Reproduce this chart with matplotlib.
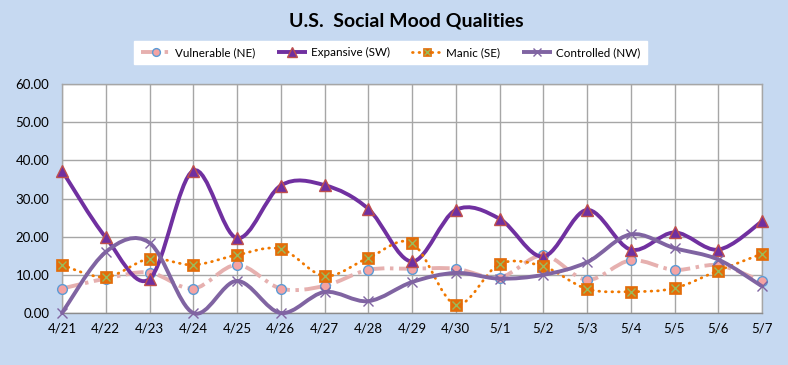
import matplotlib
matplotlib.use("Agg")
import matplotlib.pyplot as plt
from matplotlib.path import Path
from matplotlib.patches import PathPatch
from matplotlib.lines import Line2D
from matplotlib.legend_handler import HandlerTuple
import numpy as np

plt.rcParams['font.family'] = ['Lato', 'DejaVu Sans']
plt.rcParams['lines.scale_dashes'] = False

dates = ["4/21", "4/22", "4/23", "4/24", "4/25", "4/26", "4/27", "4/28", "4/29",
         "4/30", "5/1", "5/2", "5/3", "5/4", "5/5", "5/6", "5/7"]
vulnerable = [6.4, 9.0, 10.6, 6.4, 12.6, 6.4, 7.1, 11.3, 11.6, 11.6, 9.3, 15.1, 8.7, 13.8, 11.3, 12.5, 8.3]
expansive = [37.3, 19.8, 8.9, 37.3, 19.6, 33.4, 33.5, 27.3, 13.5, 27.0, 24.7, 14.8, 27.0, 16.6, 21.1, 16.6, 24.0]
manic = [12.6, 9.4, 14.2, 12.6, 15.2, 16.8, 9.7, 14.4, 18.3, 2.2, 12.8, 12.2, 6.3, 5.6, 6.5, 11.1, 15.5]
controlled = [0.0, 16.0, 18.4, 0.0, 8.4, 0.0, 5.5, 3.1, 8.1, 10.5, 9.0, 10.0, 13.3, 20.6, 17.0, 14.0, 7.0]
series_names = ["Vulnerable (NE)", "Expansive (SW)", "Manic (SE)", "Controlled (NW)"]
y_ticks = [0, 10, 20, 30, 40, 50, 60]

BG = "#C6D9F1"


def smooth_path(xs, ys):
    pts = np.column_stack([xs, ys]).astype(float)
    n = len(pts)
    verts = [pts[0]]
    codes = [Path.MOVETO]
    for i in range(n - 1):
        p0 = pts[i - 1] if i > 0 else pts[i]
        p1 = pts[i]
        p2 = pts[i + 1]
        p3 = pts[i + 2] if i + 2 < n else pts[i + 1]
        c1 = p1 + (p2 - p0) / 6.0
        c2 = p2 - (p3 - p1) / 6.0
        verts += [c1, c2, p2]
        codes += [Path.CURVE4] * 3
    return Path(verts, codes)


fig = plt.figure(figsize=(7.88, 3.65), dpi=100, facecolor=BG)
ax = fig.add_axes([62 / 788, (365 - 313) / 365, 700 / 788, 229 / 365])
ax.set_facecolor("white")

x = np.arange(len(dates))

styles = [
    dict(data=vulnerable, color="#E6B0AF", lw=2.8, dashes=(13, 4, 2.5, 4), cap="butt",
         marker="o", ms=7, mfc="#F4A3A3", mec="#5B9BD5", mew=1.0),
    dict(data=expansive, color="#7030A0", lw=2.8, dashes=None, cap="round",
         marker="^", ms=9, mfc="#7030A0", mec="#C0504D", mew=1.0),
    dict(data=manic, color="#F07800", lw=2.0, dashes=(0.5, 4.2), cap="round",
         marker="s", ms=8, mfc="#E36C09", mec="#E36C09", mew=0.5),
    dict(data=controlled, color="#8064A2", lw=2.8, dashes=None, cap="round",
         marker="x", ms=7, mfc="#8064A2", mec="#8064A2", mew=1.0),
]

handles = []
for i, st in enumerate(styles):
    z = 3 + i
    patch = PathPatch(smooth_path(x, st["data"]), fill=False, edgecolor=st["color"],
                      lw=st["lw"], zorder=z, clip_on=False)
    if st["dashes"] is not None:
        patch.set_linestyle((0, st["dashes"]))
    patch.set_capstyle(st["cap"])
    ax.add_patch(patch)
    ax.plot(x, st["data"], linestyle="none", marker=st["marker"], ms=st["ms"],
            mfc=st["mfc"], mec=st["mec"], mew=st["mew"], zorder=z + 0.5, clip_on=False)
    ls = (0, st["dashes"]) if st["dashes"] is not None else "-"
    h = Line2D([], [], color=st["color"], lw=st["lw"], linestyle=ls,
               marker=st["marker"], ms=st["ms"] * 0.8, mfc=st["mfc"], mec=st["mec"],
               mew=st["mew"], dash_capstyle=st["cap"], solid_capstyle="butt")
    if st["marker"] == "s":
        ax.plot(x, st["data"], linestyle="none", marker="x", ms=6, mec="#9BBB59",
                mew=1.0, zorder=z + 0.6, clip_on=False)
        h2 = Line2D([], [], linestyle="none", marker="x", ms=5, mec="#9BBB59", mew=1.0)
        handles.append((h, h2))
    else:
        handles.append(h)

ax.set_xlim(0, len(dates) - 1)
ax.set_ylim(0, 60)
ax.set_xticks(x)
ax.set_xticklabels(dates)
ax.set_yticks(y_ticks)
ax.set_yticklabels([f"{v:.2f}" for v in y_ticks])
ax.tick_params(length=0, labelsize=9.5, colors="black")
ax.tick_params(axis="y", pad=9)
ax.tick_params(axis="x", pad=7)
ax.grid(True, color="#A6A6A6", lw=1.0, zorder=1)
ax.set_axisbelow(True)
for s in ax.spines.values():
    s.set_color("#A6A6A6")
    s.set_linewidth(1.0)
ax.spines["bottom"].set_color("#8C8C8C")

fig.text(406 / 788, 1 - 21 / 365, "U.S.  Social Mood Qualities", ha="center", va="center",
         fontsize=14, fontweight="bold")

leg = fig.legend(handles, series_names, loc="center", bbox_to_anchor=(390.5 / 788, 1 - 52.5 / 365),
                 ncol=4, fontsize=8.4, frameon=True, fancybox=False, edgecolor="white",
                 facecolor="white", framealpha=1, handlelength=2.6, handletextpad=0.3,
                 columnspacing=1.9, borderpad=0.55,
                 handler_map={tuple: HandlerTuple(ndivide=1, pad=0)})

fig.savefig("out.png", dpi=100, facecolor=BG)
